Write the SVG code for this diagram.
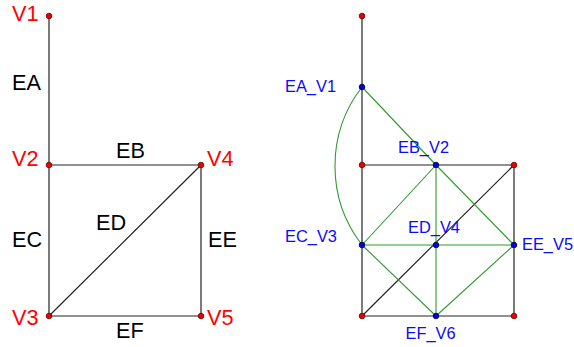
<svg xmlns="http://www.w3.org/2000/svg" width="574" height="347" viewBox="0 0 574 347">
<style>
.e{stroke:#222;stroke-width:1.2;fill:none}
.g{stroke:#2e9a2e;stroke-width:1.1;fill:none}
.rv{fill:#e00;stroke:#600;stroke-width:0.8}
.bv{fill:#0000ee;stroke:#003;stroke-width:0.8}
.rl{font-family:"Liberation Sans",Arial,sans-serif;font-size:21.7px;fill:#f00}
.kl{font-family:"Liberation Sans",Arial,sans-serif;font-size:21.7px;fill:#000}
.bl{font-family:"Liberation Sans",Arial,sans-serif;font-size:16.4px;fill:#0a0aff}
</style>
<rect width="574" height="347" fill="#fff"/>
<g id="connectors">
<line class="e" x1="49" y1="16" x2="49" y2="316"/>
<line class="e" x1="49" y1="165" x2="201" y2="165"/>
<line class="e" x1="201" y1="165" x2="201" y2="316"/>
<line class="e" x1="49" y1="316" x2="201" y2="316"/>
<line class="e" x1="49" y1="316" x2="201" y2="165"/>
<line class="e" x1="362" y1="16" x2="362" y2="316"/>
<line class="e" x1="362" y1="165" x2="514" y2="165"/>
<line class="e" x1="514" y1="165" x2="514" y2="316"/>
<line class="e" x1="362" y1="316" x2="514" y2="316"/>
<line class="e" x1="362" y1="316" x2="514" y2="165"/>
<path class="g" d="M362,87 A129,129 0 0 0 362,245"/>
<line class="g" x1="362" y1="87" x2="436" y2="165"/>
<line class="g" x1="436" y1="165" x2="362" y2="245"/>
<line class="g" x1="436" y1="165" x2="436" y2="245"/>
<line class="g" x1="436" y1="165" x2="514" y2="245"/>
<line class="g" x1="362" y1="245" x2="514" y2="245"/>
<line class="g" x1="362" y1="245" x2="436" y2="316"/>
<line class="g" x1="436" y1="245" x2="436" y2="316"/>
<line class="g" x1="514" y1="245" x2="436" y2="316"/>
</g>
<g id="edge-labels-left">
<text class="kl" x="12" y="90">EA</text>
<text class="kl" x="116" y="158">EB</text>
<text class="kl" x="12" y="247">EC</text>
<text class="kl" x="96" y="230">ED</text>
<text class="kl" x="208" y="247">EE</text>
<text class="kl" x="116" y="338">EF</text>
</g>
<g id="V1"><circle class="rv" cx="49" cy="16" r="2.8"/><text class="rl" x="12" y="21">V1</text></g>
<g id="V2"><circle class="rv" cx="49" cy="165" r="2.8"/><text class="rl" x="12" y="166">V2</text></g>
<g id="V4"><circle class="rv" cx="201" cy="165" r="2.8"/><text class="rl" x="207" y="166">V4</text></g>
<g id="V3"><circle class="rv" cx="49" cy="316" r="2.8"/><text class="rl" x="12" y="325">V3</text></g>
<g id="V5"><circle class="rv" cx="201" cy="316" r="2.8"/><text class="rl" x="207" y="325">V5</text></g>
<g id="R1"><circle class="rv" cx="362" cy="16" r="2.8"/></g>
<g id="R2"><circle class="rv" cx="362" cy="165" r="2.8"/></g>
<g id="R4"><circle class="rv" cx="514" cy="165" r="2.8"/></g>
<g id="R3"><circle class="rv" cx="362" cy="316" r="2.8"/></g>
<g id="R5"><circle class="rv" cx="514" cy="316" r="2.8"/></g>
<g id="EA_V1"><circle class="bv" cx="362" cy="87" r="2.8"/><text class="bl" x="285" y="92">EA_V1</text></g>
<g id="EB_V2"><circle class="bv" cx="436" cy="165" r="2.8"/><text class="bl" x="398" y="153">EB_V2</text></g>
<g id="EC_V3"><circle class="bv" cx="362" cy="245" r="2.8"/><text class="bl" x="285" y="241.5">EC_V3</text></g>
<g id="ED_V4"><circle class="bv" cx="436" cy="245" r="2.8"/><text class="bl" x="408" y="233">ED_V4</text></g>
<g id="EE_V5"><circle class="bv" cx="514" cy="245" r="2.8"/><text class="bl" x="522" y="250">EE_V5</text></g>
<g id="EF_V6"><circle class="bv" cx="436" cy="316" r="2.8"/><text class="bl" x="405.5" y="339">EF_V6</text></g>
</svg>
